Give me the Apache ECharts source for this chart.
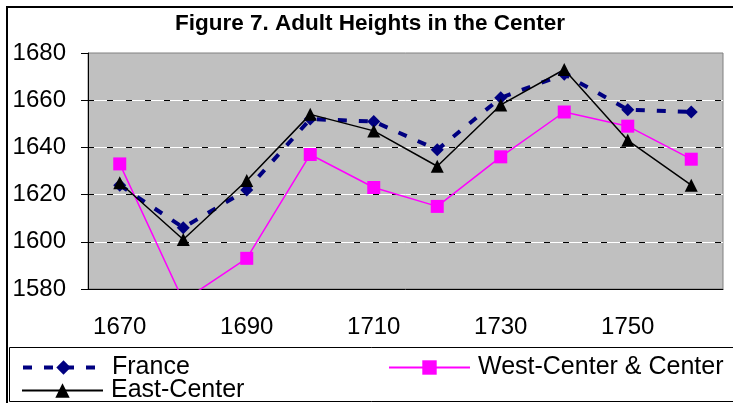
<!DOCTYPE html>
<html>
<head>
<meta charset="utf-8">
<title>Figure 7. Adult Heights in the Center</title>
<script src="https://cdn.jsdelivr.net/npm/echarts@6/dist/echarts.min.js"></script>
<style>
html, body { margin: 0; padding: 0; background: #fff; }
#heightChart { width: 733px; height: 403px; }
</style>
</head>
<body>
<div id="heightChart"></div>
<script>
var years = [ '1670', '1680', '1690', '1700', '1710', '1720', '1730', '1740', '1750', '1760' ];
var france = [ 1624, 1606, 1622, 1652, 1651, 1639, 1661, 1671, 1656, 1655 ];
var westCenter = [ 1633, 1575, 1593, 1637, 1623, 1615, 1636, 1655, 1649, 1635 ];
var eastCenter = [ 1625, 1601, 1626, 1654, 1647, 1632, 1658, 1673, 1643, 1624 ];
var yMin = 1580, yMax = 1680, yStep = 20;

var labelFont = 'Liberation Sans, Arial, sans-serif';

getHeights(document.getElementById('heightChart'));

function getHeights(el) {
	var chart = echarts.init(el);
	var legendText = { fontFamily : labelFont, fontSize : 25, color : '#000', padding : [ 0, 0, 0, 3 ] };
	var option = {
		animation : false,
		title : {
			text : 'Figure 7. Adult Heights in the Center',
			left : 170,
			top : 7,
			textStyle : {
				fontFamily : labelFont,
				fontSize : 22.5,
				fontWeight : 'bold',
				color : '#000'
			}
		},
		graphic : [ {
			type : 'rect',
			z : -10,
			shape : { x : 7, y : 7, width : 740, height : 410 },
			style : { fill : 'none', stroke : '#000', lineWidth : 2 }
		}, {
			type : 'rect',
			z : -10,
			shape : { x : 9.5, y : 347.5, width : 740, height : 54 },
			style : { fill : 'none', stroke : '#000', lineWidth : 1 }
		} ],
		legend : [ {
			data : [ 'France' ],
			left : 16, top : 350,
			itemWidth : 81, itemHeight : 18,
			lineStyle : { width : 4, type : [ 9, 12 ] },
			textStyle : legendText
		}, {
			data : [ 'East-Center' ],
			left : 16, top : 373,
			itemWidth : 81, itemHeight : 18,
			textStyle : legendText
		}, {
			data : [ 'West-Center & Center' ],
			left : 383, top : 350,
			itemWidth : 81, itemHeight : 18,
			textStyle : legendText
		} ],
		grid : {
			left : 88,
			top : 53,
			right : 10,
			bottom : 114,
			show : true,
			backgroundColor : '#c0c0c0',
			borderColor : '#808080',
			borderWidth : 1
		},
		xAxis : {
			type : 'category',
			data : years,
			boundaryGap : true,
			axisLine : { lineStyle : { color : '#000', width : 1 } },
			axisTick : { interval : 0, length : 7, lineStyle : { color : '#000' } },
			axisLabel : {
				interval : 1,
				margin : 26,
				fontFamily : labelFont,
				fontSize : 24,
				color : '#000'
			},
			splitLine : { show : false }
		},
		yAxis : [ {
			type : 'value',
			min : yMin,
			max : yMax,
			interval : yStep,
			axisLine : { show : true, lineStyle : { color : '#000', width : 1 } },
			axisTick : { show : true, length : 7, lineStyle : { color : '#000' } },
			axisLabel : {
				margin : 22,
				fontFamily : labelFont,
				fontSize : 24,
				color : '#000',
				formatter : function(v) { return String(v); }
			},
			splitLine : {
				show : true,
				showMaxLine : false,
				lineStyle : { color : '#fff', width : 1, type : 'solid' }
			}
		}, {
			type : 'value',
			min : yMin,
			max : yMax,
			interval : yStep,
			position : 'left',
			axisLine : { show : false },
			axisTick : { show : false },
			axisLabel : { show : false },
			splitLine : {
				show : true,
				showMaxLine : false,
				lineStyle : { color : '#000', width : 1, type : [ 6, 13 ] }
			}
		} ],
		series : [ {
			type : 'line',
			name : 'France',
			data : france,
			symbol : 'diamond',
			symbolSize : 13,
			color : '#000080',
			lineStyle : { width : 4, type : [ 9, 12 ] },
			itemStyle : { color : '#000080' }
		}, {
			type : 'line',
			name : 'West-Center & Center',
			data : westCenter,
			symbol : 'rect',
			symbolSize : 13,
			color : '#ff00ff',
			lineStyle : { width : 1.5 },
			itemStyle : { color : '#ff00ff' }
		}, {
			type : 'line',
			name : 'East-Center',
			data : eastCenter,
			symbol : 'triangle',
			symbolSize : 13,
			color : '#000',
			lineStyle : { width : 1.5 },
			itemStyle : { color : '#000' }
		} ]
	};
	chart.setOption(option);

	window.onresize = function() {
		chart.resize();
	}
}
</script>
</body>
</html>
